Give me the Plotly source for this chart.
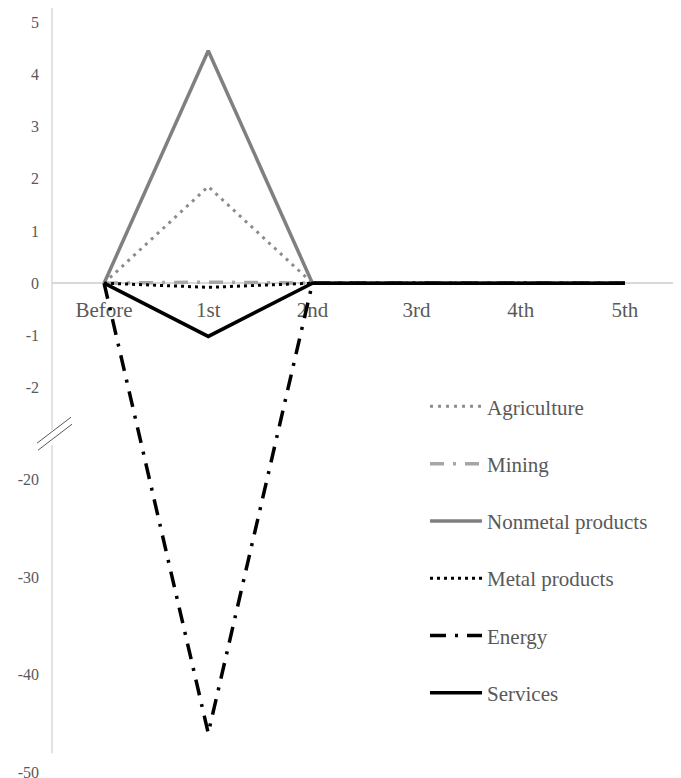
import plotly.graph_objects as go

categories = ["Before", "1st", "2nd", "3rd", "4th", "5th"]
agriculture = [0, 1.85, 0, 0, 0, 0]
mining = [0, 0.02, 0, 0, 0, 0]
nonmetal = [0, 4.45, 0, 0, 0, 0]
metal = [0, -0.08, 0, 0, 0, 0]
energy = [0, -46.0, 0, 0, 0, 0]
services = [0, -1.02, 0, 0, 0, 0]

upper_ticks = [5, 4, 3, 2, 1, 0, -1, -2]
lower_ticks = [-20, -30, -40, -50]

# broken axis: values below the break are compressed
LOWER_OFFSET = -3.755
LOWER_SCALE = 0.1871


def to_display(v):
    if v > -10:
        return v
    return LOWER_OFFSET + (v + 20) * LOWER_SCALE


FONT = "Liberation Serif, Times New Roman, serif"
TXT = "#595959"

series = [
    ("Agriculture", agriculture, "#8c8c8c", 3, "3px,5px"),
    ("Mining", mining, "#a6a6a6", 3.5, "14px,9px,3px,9px"),
    ("Nonmetal products", nonmetal, "#808080", 3.5, "solid"),
    ("Metal products", metal, "#000000", 3, "3px,4px"),
    ("Energy", energy, "#000000", 3.5, "16px,9px,3px,9px"),
    ("Services", services, "#000000", 3.5, "solid"),
]

fig = go.Figure()
for i, (name, vals, color, w, dash) in enumerate(series):
    fig.add_trace(go.Scatter(
        x=categories, y=[to_display(v) for v in vals], name=name,
        mode="lines", line=dict(color=color, width=w, dash=dash),
        legendgroup="g%d" % i,
    ))

ymin, ymax = -9.42, 5.27


def d(p):
    # screen pixel row -> display value
    return (283 - p) / 52.2


def px(x):
    # screen pixel column -> paper fraction
    return (x - 52) / 625


def py(p):
    return (d(p) - ymin) / (ymax - ymin)


ticks = upper_ticks + lower_ticks
fig.update_layout(
    width=673, height=790,
    margin=dict(l=44, r=4, t=0, b=23, autoexpand=False),
    plot_bgcolor="white", paper_bgcolor="white",
    font=dict(family=FONT, color=TXT),
    showlegend=True,
    legend=dict(x=px(425), y=py(386), xref="paper", yref="paper",
                xanchor="left", yanchor="top", font=dict(size=21, family=FONT, color=TXT),
                tracegroupgap=27, itemwidth=52, bgcolor="rgba(0,0,0,0)"),
    xaxis=dict(
        type="category", range=[-0.5, 5.5], anchor="free",
        position=(0 - ymin) / (ymax - ymin),
        showline=True, linecolor="#d9d9d9", linewidth=1.5, layer="below traces",
        showgrid=False, zeroline=False, ticks="",
        tickfont=dict(size=21, family=FONT, color=TXT),
        ticklabelstandoff=8,
    ),
    yaxis=dict(
        range=[ymin, ymax], showgrid=False, zeroline=False, showline=False,
        tickvals=[to_display(v) for v in ticks], ticktext=[str(v) for v in ticks],
        ticks="", tickfont=dict(size=16, family=FONT, color=TXT),
        ticklabelstandoff=12, ticklabeloverflow="allow",
    ),
)

shapes = [
    dict(type="line", xref="paper", yref="y", x0=0, x1=0, y0=ymax, y1=d(430),
         line=dict(color="#d9d9d9", width=1.5)),
    dict(type="line", xref="paper", yref="y", x0=0, x1=0, y0=d(445), y1=d(753),
         line=dict(color="#d9d9d9", width=1.5)),
    dict(type="line", xref="paper", yref="y", x0=px(37), x1=px(71), y0=d(443), y1=d(417),
         line=dict(color=TXT, width=1)),
    dict(type="line", xref="paper", yref="y", x0=px(38), x1=px(72), y0=d(450), y1=d(424),
         line=dict(color=TXT, width=1)),
]
fig.update_layout(shapes=shapes)
fig.write_html("out.html")
